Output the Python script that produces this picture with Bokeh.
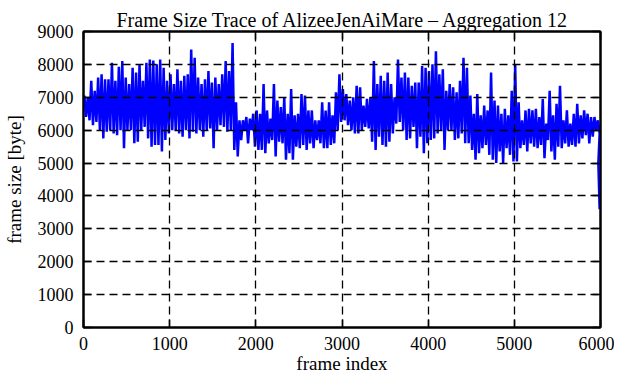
from bokeh.plotting import figure
from bokeh.models import Range1d, LinearAxis, FixedTicker
from bokeh.embed import file_html
from bokeh.resources import INLINE
import numpy as np

chart_title = "Frame Size Trace of AlizeeJenAiMare – Aggregation 12"
x_label = "frame index"
y_label = "frame size [byte]"

# frames are grouped in blocks of 40; per block the highest and lowest frame size
block_frames = 40
block_high = [
    7050, 7000, 7500, 7200, 7600, 7700, 7550, 7550, 8050, 7500,
    7930, 8100, 7600, 7400, 7900, 7750, 8000, 7500, 8050, 8150,
    8120, 8000, 8150, 7900, 7500, 7700, 7400, 7850, 7500, 7650,
    7700, 8450, 8200, 7600, 7400, 7550, 7800, 7450, 7600, 7400,
    7700, 8100, 7800, 8650, 6850, 6300, 6300, 6400, 6350, 6500,
    6600, 6500, 7400, 6600, 6350, 7400, 6900, 6700, 7000, 6500,
    7250, 6450, 6500, 7100, 7050, 6600, 6600, 6300, 6300, 6850,
    6600, 6850, 6450, 7150, 7700, 7250, 7100, 6900, 7000, 7350,
    7300, 6750, 6950, 7000, 8100, 7400, 7650, 7500, 7750, 7400,
    7000, 8150, 7600, 7750, 7600, 7350, 7450, 7450, 7950, 7900,
    7800, 8000, 8400, 7700, 7850, 7200, 7400, 7300, 7150, 7500,
    8200, 7900, 7050, 6500, 7100, 6450, 6750, 6600, 7750, 6900,
    6750, 6500, 6650, 6450, 7200, 8000, 6850, 6300, 6600, 6650,
    6600, 6650, 6400, 6950, 6200, 7200, 6450, 6800, 7350, 6300,
    6600, 6200, 6500, 6800, 6450, 6600, 6500, 6400, 6400, 6300,
]
block_low = [
    6400, 6300, 6150, 6250, 6000, 5750, 5950, 6000, 5900, 5850,
    6000, 5450, 6000, 6000, 5600, 5650, 6000, 6100, 5750, 5500,
    5550, 5550, 5350, 5700, 5900, 6000, 6000, 5900, 5800, 6000,
    5750, 5950, 5900, 6000, 5800, 6000, 6050, 5450, 6000, 6150,
    6100, 5950, 6000, 5400, 5200, 5700, 6000, 5600, 6000, 5500,
    5400, 5400, 5300, 5600, 5700, 5200, 5650, 5600, 5100, 5300,
    5100, 5500, 5450, 5550, 5400, 5600, 5450, 5700, 5600, 5450,
    5450, 5550, 5600, 6000, 6250, 6300, 6150, 6000, 5900, 5900,
    6000, 6100, 6050, 5650, 5400, 5800, 5550, 5500, 5650, 5900,
    6200, 6250, 6000, 5700, 5750, 6100, 5450, 5800, 5300, 5600,
    5700, 5750, 5900, 6000, 5400, 6000, 6000, 5700, 5750, 5900,
    5600, 5600, 5400, 5100, 5300, 5450, 5550, 5250, 5100, 5000,
    5350, 5000, 5450, 5250, 5050, 5050, 5450, 5550, 5350, 5600,
    5500, 5450, 5550, 5150, 5700, 5350, 5100, 5500, 5450, 5600,
    5500, 5550, 5500, 5600, 5750, 5850, 5600, 5800, 6000, 5900,
]
tail_frames = [5975, 5990]
tail_sizes = [5000, 3600]

x_ticks = [0, 1000, 2000, 3000, 4000, 5000, 6000]
y_ticks = [0, 1000, 2000, 3000, 4000, 5000, 6000, 7000, 8000, 9000]

starts = np.arange(len(block_high)) * block_frames
xs = np.column_stack([starts + block_frames // 4, starts + 3 * block_frames // 4]).ravel()
ys = np.column_stack([block_high, block_low]).ravel()
xs = np.concatenate([xs, tail_frames])
ys = np.concatenate([ys, tail_sizes])

FONT = "Liberation Serif"

p = figure(frame_width=517, frame_height=296, output_backend="svg", toolbar_location=None,
           x_range=Range1d(x_ticks[0], x_ticks[-1]), y_range=Range1d(y_ticks[0], y_ticks[-1]),
           title=chart_title, x_axis_label=x_label, y_axis_label=y_label,
           min_border_left=78, min_border_right=14, min_border_top=31, min_border_bottom=38)

p.line(xs, ys, line_color="#0000ff", line_width=2.5)

p.title.align = "left"
p.title.offset = 33
p.title.text_font = FONT
p.title.text_font_size = "20px"
p.title.text_font_style = "normal"
p.title.text_color = "black"
p.title.standoff = 2

p.outline_line_color = "black"
p.outline_line_width = 2
p.background_fill_color = "white"
p.border_fill_color = "white"

for ax in (p.xaxis[0], p.yaxis[0]):
    ax.axis_line_color = "black"
    ax.axis_line_width = 2
    ax.major_tick_in = 8
    ax.major_tick_out = 0
    ax.major_tick_line_width = 1.5
    ax.major_tick_line_color = "black"
    ax.minor_tick_line_color = None
    ax.major_label_text_font = FONT
    ax.major_label_text_font_size = "18px"
    ax.major_label_text_color = "black"
    ax.axis_label_text_font = FONT
    ax.axis_label_text_font_size = "19px"
    ax.axis_label_text_font_style = "normal"
    ax.axis_label_text_color = "black"

p.xaxis[0].ticker = FixedTicker(ticks=x_ticks)
p.yaxis[0].ticker = FixedTicker(ticks=y_ticks)
p.xaxis[0].major_label_standoff = 9
p.xaxis[0].axis_label_standoff = 0
p.yaxis[0].major_label_standoff = 10
p.yaxis[0].axis_label_standoff = 10

# mirrored ticks on top and right
top_ax = LinearAxis(ticker=FixedTicker(ticks=x_ticks),
                    major_label_overrides={t: "" for t in x_ticks})
right_ax = LinearAxis(ticker=FixedTicker(ticks=y_ticks),
                      major_label_overrides={t: "" for t in y_ticks})
for ax in (top_ax, right_ax):
    ax.axis_line_color = "black"
    ax.axis_line_width = 2
    ax.major_tick_in = 8
    ax.major_tick_out = 0
    ax.major_tick_line_width = 1.5
    ax.minor_tick_line_color = None
    ax.major_label_standoff = 0
    ax.major_label_text_font_size = "1px"
p.add_layout(top_ax, "above")
p.add_layout(right_ax, "right")

for g, t in ((p.xgrid[0], x_ticks), (p.ygrid[0], y_ticks)):
    g.ticker = FixedTicker(ticks=t)
    g.grid_line_color = "black"
    g.grid_line_dash = "8 5"
    g.grid_line_width = 1.3
    g.level = "overlay"

open("out.html", "w").write(file_html(p, INLINE))
